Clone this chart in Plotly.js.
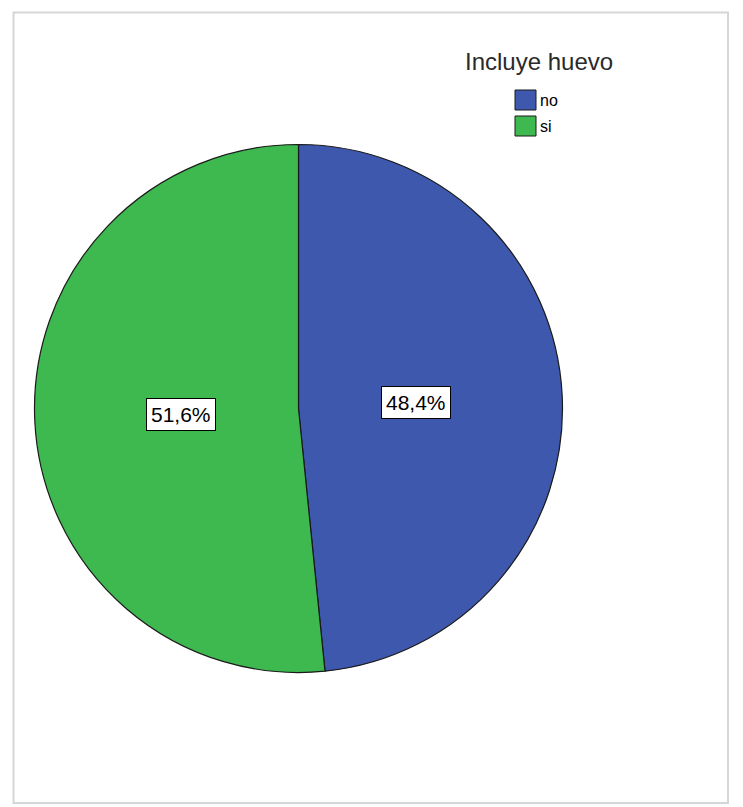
<!DOCTYPE html>
<html>
<head>
<meta charset="utf-8">
<script src="https://cdn.plot.ly/plotly-3.0.1.min.js"></script>
<style>html,body{margin:0;padding:0;background:#fff;}#chart{width:743px;height:807px;}</style>
</head>
<body>
<div id="chart"></div>
<script>
// Data
const categories = ["no", "si"];
const values = [48.4, 51.6];
const sliceColors = ["#3e58ad", "#3eb94f"];
const legendTitle = "Incluye huevo";
const pctLabels = ["48,4%", "51,6%"];

const W = 743, H = 807;
const cx = 298.5, cy = 408.5, r = 264;
const dom = {x: [(cx - r) / W, (cx + r) / W], y: [1 - (cy + r) / H, 1 - (cy - r) / H]};
const FONT = "Liberation Sans, Arial, sans-serif";

// label annotations at slice bisectors (computed from the values)
const total = values.reduce((a, b) => a + b, 0);
let cum = 0;
const annotations = values.map((v, i) => {
  const mid = (cum + v / 2) / total * 2 * Math.PI;
  cum += v;
  const k = 0.445;
  const px = cx + k * r * Math.sin(mid);
  const py = cy - k * r * Math.cos(mid);
  return {
    x: px / W, y: 1 - py / H, xref: "paper", yref: "paper",
    xanchor: "center", yanchor: "middle",
    text: pctLabels[i], showarrow: false,
    font: {family: FONT, size: 21, color: "#000"},
    bgcolor: "#ffffff", bordercolor: "#000000", borderwidth: 1, borderpad: 4
  };
});

// legend (title + swatches built from the category/colour arrays)
annotations.push({
  x: 539 / W, y: 1 - 61 / H, xref: "paper", yref: "paper",
  text: legendTitle, showarrow: false, xanchor: "center", yanchor: "middle",
  font: {family: FONT, size: 24, color: "#2a2a2a"}
});
const shapes = [{
  type: "rect", xref: "paper", yref: "paper",
  x0: 13.5 / W, x1: 728 / W, y0: 1 - 803 / H, y1: 1 - 12.5 / H,
  line: {color: "#d6d6d6", width: 2}, layer: "below"
}];
const lx0 = 515, lx1 = 536, ly0 = 90, lh = 20, lstep = 26;
categories.forEach((c, i) => {
  const y0 = ly0 + i * lstep;
  shapes.push({
    type: "rect", xref: "paper", yref: "paper",
    x0: lx0 / W, x1: lx1 / W, y0: 1 - (y0 + lh) / H, y1: 1 - y0 / H,
    fillcolor: sliceColors[i], line: {color: "#1a1a1a", width: 1}
  });
  annotations.push({
    x: (lx1 + 2) / W, y: 1 - (y0 + lh / 2) / H, xref: "paper", yref: "paper",
    text: c, showarrow: false, xanchor: "left", yanchor: "middle",
    font: {family: FONT, size: 16, color: "#000"}
  });
});

const trace = {
  type: "pie",
  labels: categories,
  values: values,
  sort: false,
  direction: "clockwise",
  rotation: 0,
  textinfo: "none",
  hoverinfo: "label+percent",
  marker: {colors: sliceColors, line: {color: "#1a1a1a", width: 1.2}},
  domain: dom,
  showlegend: false
};

const layout = {
  width: W, height: H,
  margin: {l: 0, r: 0, t: 0, b: 0},
  paper_bgcolor: "#ffffff",
  showlegend: false,
  annotations: annotations,
  shapes: shapes
};

Plotly.newPlot("chart", [trace], layout, {displayModeBar: false, staticPlot: true});
</script>
</body>
</html>
